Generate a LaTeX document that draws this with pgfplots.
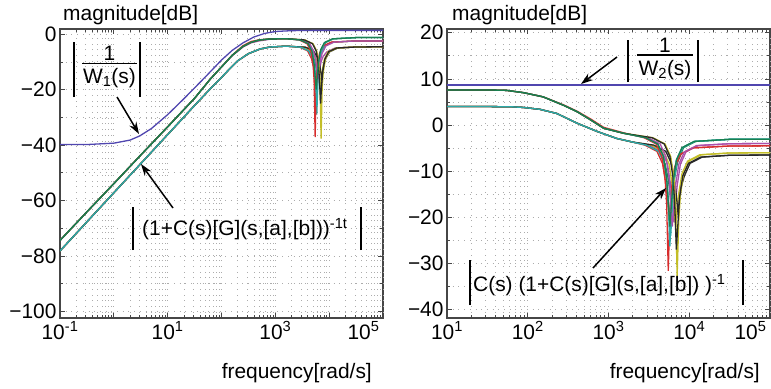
\documentclass[border=0pt]{standalone}
\usepackage{fontspec}
\setmainfont{Liberation Sans}
\usepackage{pgfplots}
\pgfplotsset{compat=1.18}
\usetikzlibrary{arrows.meta}
\definecolor{mgreen}{RGB}{25,128,80}
\definecolor{mred}{RGB}{215,45,45}
\definecolor{mcyan}{RGB}{45,170,170}
\definecolor{mmag}{RGB}{170,80,170}
\definecolor{molive}{RGB}{195,190,40}
\definecolor{mdark}{RGB}{40,40,40}
\definecolor{mblue}{RGB}{80,70,175}
\definecolor{axgray}{RGB}{70,70,70}
\newcommand{\bigfont}{\fontsize{21}{24}\selectfont}
\pgfplotsset{
  bodeaxis/.style={
    scale only axis, width=323bp, height=289bp,
    axis line style={line width=1.5bp, draw=axgray},
    tick style={draw=axgray, line width=0.7bp},
    tick align=inside, major tick length=5bp, minor tick length=3bp,
    grid=both,
    major grid style={draw=gray!65, line width=0.7bp, dash pattern=on 0.7bp off 5bp},
    minor grid style={draw=gray!65, line width=0.7bp, dash pattern=on 0.7bp off 5bp},
    tick label style={font=\bigfont},
    extra x tick style={xticklabel style={anchor=north east}},
    every axis plot/.append style={line width=1.3bp},
    clip=true,
  }
}
\begin{document}
\begin{tikzpicture}[x=1bp,y=1bp,font=\bigfont]
\useasboundingbox (0,0) rectangle (771,388);
% ---------------- left axis ----------------
\begin{axis}[bodeaxis,
  at={(60bp,70bp)}, anchor=south west,
  xmin=-1, xmax=5, ymin=-102.4, ymax=1.9,
  xtick={-1,0,1,2,3,4},
  xticklabels={10\textsuperscript{-1},,10\textsuperscript{1},,10\textsuperscript{3},},
  extra x ticks={5}, extra x tick labels={10\textsuperscript{5}},
  minor xtick={-0.69897,-0.52288,-0.39794,-0.30103,-0.22185,-0.1549,-0.09691,-0.04576,
    0.30103,0.47712,0.60206,0.69897,0.77815,0.8451,0.90309,0.95424,
    1.30103,1.47712,1.60206,1.69897,1.77815,1.8451,1.90309,1.95424,
    2.30103,2.47712,2.60206,2.69897,2.77815,2.8451,2.90309,2.95424,
    3.30103,3.47712,3.60206,3.69897,3.77815,3.8451,3.90309,3.95424,
    4.30103,4.47712,4.60206,4.69897,4.77815,4.8451,4.90309,4.95424},
  ytick={-100,-80,-60,-40,-20,0},
  yticklabels={−100,−80,−60,−40,−20,0},
  minor ytick={-90,-70,-50,-30,-10},
]
% lower group
\addplot[mred] coordinates {(-1,-78.2) (-0.5,-67.7) (0,-57.2) (0.5,-46.7) (1,-36.2) (1.5,-25.7) (1.8,-19.5) (2.0,-15.6) (2.15,-12.5) (2.3,-9.6) (2.5,-7.0) (2.72,-5.3) (2.9,-4.6) (3.2,-4.3)
 (3.45,-4.65) (3.60,-6.0) (3.67,-8.7) (3.71,-11.8) (3.73,-14.6) (3.75,-18) (3.77,-14.1) (3.79,-11.0) (3.83,-6.9) (3.90,-4.2) (4.05,-2.85) (4.5,-2.4) (5,-2.4)};
\addplot[mgreen] coordinates {(-1,-78.2) (-0.5,-67.7) (0,-57.2) (0.5,-46.7) (1,-36.2) (1.5,-25.7) (1.8,-19.5) (2.0,-15.6) (2.15,-12.5) (2.3,-9.6) (2.5,-7.0) (2.72,-5.3) (2.9,-4.6) (3.2,-4.3)
 (3.48,-4.65) (3.63,-6.0) (3.70,-8.0) (3.74,-10.1) (3.76,-12.3) (3.78,-15) (3.80,-11.6) (3.82,-8.8) (3.86,-5.7) (3.93,-3.0) (4.08,-1.65) (4.5,-1.2) (5,-1.2)};
\addplot[mmag] coordinates {(-1,-78.2) (-0.5,-67.7) (0,-57.2) (0.5,-46.7) (1,-36.2) (1.5,-25.7) (1.8,-19.5) (2.0,-15.6) (2.15,-12.5) (2.3,-9.6) (2.5,-7.0) (2.72,-5.3) (2.9,-4.6) (3.2,-4.3)
 (3.51,-4.65) (3.66,-6.0) (3.73,-7.6) (3.77,-9.6) (3.79,-11.6) (3.81,-14) (3.83,-11.9) (3.85,-9.9) (3.89,-7.9) (3.96,-6.3) (4.11,-4.95) (4.5,-4.6) (5,-4.5)};
\addplot[molive] coordinates {(-1,-78.2) (-0.5,-67.7) (0,-57.2) (0.5,-46.7) (1,-36.2) (1.5,-25.7) (1.8,-19.5) (2.0,-15.6) (2.15,-12.5) (2.3,-9.6) (2.5,-7.0) (2.72,-5.3) (2.9,-4.6) (3.2,-4.3)
 (3.53,-4.65) (3.68,-6.0) (3.75,-8.7) (3.79,-12.9) (3.81,-16.1) (3.83,-20) (3.85,-16.4) (3.87,-13.2) (3.91,-9.0) (3.98,-6.3) (4.13,-4.95) (4.5,-4.6) (5,-4.5)};
\addplot[mdark] coordinates {(-1,-78.2) (-0.5,-67.7) (0,-57.2) (0.5,-46.7) (1,-36.2) (1.5,-25.7) (1.8,-19.5) (2.0,-15.6) (2.15,-12.5) (2.3,-9.6) (2.5,-7.0) (2.72,-5.3) (2.9,-4.6) (3.2,-4.3)
 (3.56,-4.65) (3.71,-6.0) (3.78,-8.3) (3.82,-10.7) (3.84,-13.1) (3.86,-16) (3.88,-13.4) (3.90,-11.0) (3.94,-8.6) (4.01,-6.3) (4.16,-4.95) (4.5,-4.6) (5,-4.5)};
\addplot[mcyan] coordinates {(-1,-78.2) (-0.5,-67.7) (0,-57.2) (0.5,-46.7) (1,-36.2) (1.5,-25.7) (1.8,-19.5) (2.0,-15.6) (2.15,-12.5) (2.3,-9.6) (2.5,-7.0) (2.72,-5.3) (2.9,-4.6) (3.2,-4.3)
 (3.47,-4.65) (3.62,-6.0) (3.69,-8.7) (3.73,-13.4) (3.75,-19.0) (3.77,-29) (3.79,-17.2) (3.81,-11.6) (3.85,-6.9) (3.92,-4.2) (4.07,-2.85) (4.5,-2.4) (5,-2.4)};
% upper group
\addplot[mred] coordinates {(-1,-74.4) (-0.5,-64.1) (0,-53.9) (0.5,-43.6) (1,-33.4) (1.5,-23.1) (1.8,-16.0) (2.0,-11.8) (2.2,-7.5) (2.4,-4.1) (2.55,-2.6) (2.7,-2.0) (2.9,-1.7) (3.2,-1.6)
 (3.44,-2.05) (3.59,-3.4) (3.66,-6.1) (3.70,-10.8) (3.72,-16.4) (3.74,-37.1) (3.76,-17.2) (3.78,-11.6) (3.82,-6.9) (3.89,-4.2) (4.04,-2.85) (4.5,-2.4) (5,-2.4)};
\addplot[mcyan] coordinates {(-1,-74.4) (-0.5,-64.1) (0,-53.9) (0.5,-43.6) (1,-33.4) (1.5,-23.1) (1.8,-16.0) (2.0,-11.8) (2.2,-7.6) (2.4,-4.4) (2.55,-2.9) (2.7,-2.1) (2.9,-1.7) (3.2,-1.6)
 (3.47,-2.05) (3.62,-3.4) (3.69,-6.1) (3.73,-10.8) (3.75,-16.4) (3.77,-26) (3.79,-16.0) (3.81,-10.4) (3.85,-5.7) (3.92,-3.0) (4.07,-1.65) (4.5,-1.2) (5,-1.2)};
\addplot[mmag] coordinates {(-1,-74.4) (-0.5,-64.1) (0,-53.9) (0.5,-43.6) (1,-33.4) (1.5,-23.1) (1.8,-16.0) (2.0,-11.8) (2.2,-7.7) (2.4,-4.6) (2.55,-3.1) (2.7,-2.4) (2.9,-1.8) (3.2,-1.6)
 (3.49,-2.05) (3.64,-3.4) (3.71,-6.1) (3.75,-9.5) (3.77,-12.4) (3.79,-16) (3.81,-12.6) (3.83,-9.9) (3.87,-6.9) (3.94,-4.2) (4.09,-2.85) (4.5,-2.4) (5,-2.4)};
\addplot[molive] coordinates {(-1,-74.4) (-0.5,-64.1) (0,-53.9) (0.5,-43.6) (1,-33.4) (1.5,-23.1) (1.8,-16.0) (2.0,-11.8) (2.2,-7.6) (2.4,-4.4) (2.55,-2.9) (2.7,-2.1) (2.9,-1.7) (3.2,-1.6)
 (3.55,-2.05) (3.70,-3.4) (3.77,-6.1) (3.81,-10.8) (3.83,-16.4) (3.85,-37.7) (3.87,-19.3) (3.89,-13.7) (3.93,-9.0) (4.0,-6.3) (4.15,-4.95) (4.5,-4.6) (5,-4.5)};
\addplot[mdark] coordinates {(-1,-74.4) (-0.5,-64.1) (0,-53.9) (0.5,-43.6) (1,-33.4) (1.5,-23.1) (1.8,-16.0) (2.0,-11.8) (2.2,-7.6) (2.4,-4.4) (2.55,-2.9) (2.7,-2.1) (2.9,-1.7) (3.2,-1.6)
 (3.54,-2.05) (3.69,-3.4) (3.76,-6.1) (3.80,-10.8) (3.82,-16.4) (3.84,-25) (3.86,-18.5) (3.88,-13.7) (3.92,-9.0) (3.99,-6.3) (4.14,-4.95) (4.5,-4.6) (5,-4.5)};
\addplot[mgreen] coordinates {(-1,-74.4) (-0.5,-64.1) (0,-53.9) (0.5,-43.6) (1,-33.4) (1.5,-23.1) (1.8,-16.0) (2.0,-11.8) (2.2,-7.6) (2.4,-4.4) (2.55,-2.9) (2.7,-2.1) (2.9,-1.7) (3.2,-1.6)
 (3.46,-2.05) (3.61,-3.4) (3.68,-6.1) (3.72,-10.8) (3.74,-15.4) (3.76,-20) (3.78,-15.3) (3.80,-10.4) (3.84,-5.7) (3.91,-3.0) (4.06,-1.65) (4.5,-1.2) (5,-1.2)};
% 1/W1
\addplot[mblue] coordinates {(-1,-39.8) (-0.5,-39.8) (0,-39.3) (0.3,-38.2) (0.48,-36.7) (0.7,-34.0) (1.0,-29.0) (1.3,-23.3) (1.7,-15.4) (2.0,-9.3) (2.2,-5.8) (2.4,-3.1) (2.6,-1.0) (2.8,0.3) (3.0,1.0) (3.3,1.3) (3.7,1.4) (5,1.4)};
\end{axis}
% ---------------- right axis ----------------
\begin{axis}[bodeaxis,
  at={(447bp,70bp)}, anchor=south west,
  xmin=1, xmax=5, ymin=-41.8, ymax=20.8,
  xtick={1,2,3,4},
  xticklabels={10\textsuperscript{1},10\textsuperscript{2},10\textsuperscript{3},10\textsuperscript{4}},
  extra x ticks={5}, extra x tick labels={10\textsuperscript{5}},
  minor xtick={1.30103,1.47712,1.60206,1.69897,1.77815,1.8451,1.90309,1.95424,
    2.30103,2.47712,2.60206,2.69897,2.77815,2.8451,2.90309,2.95424,
    3.30103,3.47712,3.60206,3.69897,3.77815,3.8451,3.90309,3.95424,
    4.30103,4.47712,4.60206,4.69897,4.77815,4.8451,4.90309,4.95424},
  ytick={-40,-30,-20,-10,0,10,20},
  yticklabels={−40,−30,−20,−10,0,10,20},
  minor ytick={-35,-25,-15,-5,5,15},
]
% lower group
\addplot[mred] coordinates {(1,4.0) (1.5,4.0) (1.8,3.95) (1.95,3.8) (2.15,3.4) (2.36,2.5) (2.61,0.4) (2.86,-1.4) (3.10,-2.9) (3.3,-3.7)
 (3.45,-4.35) (3.60,-5.7) (3.67,-8.4) (3.71,-12.8) (3.73,-16.0) (3.75,-20) (3.77,-16.1) (3.79,-13.0) (3.83,-9.0) (3.90,-6.3) (4.05,-4.95) (4.5,-4.55) (5,-4.5)};
\addplot[mgreen] coordinates {(1,4.0) (1.5,4.0) (1.8,3.95) (1.95,3.8) (2.15,3.4) (2.36,2.5) (2.61,0.4) (2.86,-1.4) (3.10,-2.9) (3.3,-3.7)
 (3.48,-4.35) (3.63,-5.7) (3.70,-8.4) (3.74,-11.7) (3.76,-14.5) (3.78,-18) (3.80,-14.3) (3.82,-11.3) (3.86,-7.6) (3.93,-4.9) (4.08,-3.55) (4.5,-3.1) (5,-3.1)};
\addplot[mmag] coordinates {(1,4.0) (1.5,4.0) (1.8,3.95) (1.95,3.8) (2.15,3.4) (2.36,2.5) (2.61,0.4) (2.86,-1.4) (3.10,-2.9) (3.3,-3.7)
 (3.51,-4.35) (3.66,-5.7) (3.73,-8.4) (3.77,-13.1) (3.79,-16.7) (3.81,-21) (3.83,-16.8) (3.85,-13.2) (3.89,-8.5) (3.96,-5.8) (4.11,-4.45) (4.5,-4.05) (5,-4.0)};
\addplot[molive] coordinates {(1,4.0) (1.5,4.0) (1.8,3.95) (1.95,3.8) (2.15,3.4) (2.36,2.5) (2.61,0.4) (2.86,-1.4) (3.10,-2.9) (3.3,-3.7)
 (3.53,-4.35) (3.68,-5.7) (3.75,-8.4) (3.79,-13.1) (3.81,-17.5) (3.83,-22) (3.85,-18.0) (3.87,-14.8) (3.91,-10.5) (3.98,-7.8) (4.13,-6.45) (4.5,-6.05) (5,-6.0)};
\addplot[mdark] coordinates {(1,4.0) (1.5,4.0) (1.8,3.95) (1.95,3.8) (2.15,3.4) (2.36,2.5) (2.61,0.4) (2.86,-1.4) (3.10,-2.9) (3.3,-3.7)
 (3.56,-4.35) (3.71,-5.7) (3.78,-8.4) (3.82,-12.2) (3.84,-15.2) (3.86,-19) (3.88,-15.9) (3.90,-13.4) (3.94,-11.0) (4.01,-8.3) (4.16,-6.95) (4.5,-6.55) (5,-6.5)};
\addplot[mcyan] coordinates {(1,4.0) (1.5,4.0) (1.8,3.95) (1.95,3.8) (2.15,3.4) (2.36,2.5) (2.61,0.4) (2.86,-1.4) (3.10,-2.9) (3.3,-3.7)
 (3.47,-4.35) (3.62,-5.7) (3.69,-8.4) (3.73,-13.1) (3.75,-18.7) (3.77,-24) (3.79,-17.9) (3.81,-12.3) (3.85,-7.6) (3.92,-4.9) (4.07,-3.55) (4.5,-3.1) (5,-3.1)};
% upper group
\addplot[mred] coordinates {(1,7.6) (1.5,7.6) (1.74,7.5) (1.95,7.0) (2.19,6.1) (2.44,4.4) (2.61,3.0) (2.78,1.3) (2.94,-0.5) (3.19,-1.7)
 (3.44,-2.75) (3.59,-4.1) (3.66,-6.8) (3.70,-11.5) (3.72,-17.1) (3.74,-31.6) (3.76,-19.3) (3.78,-13.7) (3.82,-9.0) (3.89,-6.3) (4.04,-4.95) (4.5,-4.55) (5,-4.5)};
\addplot[mcyan] coordinates {(1,7.6) (1.5,7.6) (1.74,7.5) (1.95,7.0) (2.19,6.1) (2.44,4.3) (2.61,2.9) (2.78,1.1) (2.94,-0.7) (3.19,-1.8)
 (3.46,-2.75) (3.61,-4.1) (3.68,-6.8) (3.72,-11.5) (3.74,-17.1) (3.76,-26.3) (3.78,-17.9) (3.80,-12.3) (3.84,-7.6) (3.91,-4.9) (4.06,-3.55) (4.5,-3.1) (5,-3.1)};
\addplot[mmag] coordinates {(1,7.6) (1.5,7.6) (1.74,7.5) (1.95,7.0) (2.19,6.1) (2.44,4.3) (2.61,2.9) (2.78,1.1) (2.94,-0.7) (3.19,-1.8)
 (3.49,-2.75) (3.64,-4.1) (3.71,-6.8) (3.75,-11.5) (3.77,-17.1) (3.79,-22) (3.81,-17.5) (3.83,-13.2) (3.87,-8.5) (3.94,-5.8) (4.09,-4.45) (4.5,-4.05) (5,-4.0)};
\addplot[molive] coordinates {(1,7.6) (1.5,7.6) (1.74,7.5) (1.95,7.0) (2.19,6.1) (2.44,4.3) (2.61,2.9) (2.78,1.1) (2.94,-0.7) (3.19,-1.8)
 (3.55,-2.75) (3.70,-4.1) (3.77,-6.8) (3.81,-11.5) (3.83,-17.1) (3.85,-32.7) (3.87,-20.8) (3.89,-15.2) (3.93,-10.5) (4.0,-7.8) (4.15,-6.45) (4.5,-6.05) (5,-6.0)};
\addplot[mdark] coordinates {(1,7.6) (1.5,7.6) (1.74,7.5) (1.95,7.0) (2.19,6.1) (2.44,4.3) (2.61,2.9) (2.78,1.1) (2.94,-0.7) (3.19,-1.8)
 (3.54,-2.75) (3.69,-4.1) (3.76,-6.8) (3.80,-11.5) (3.82,-17.1) (3.84,-27) (3.86,-21.3) (3.88,-15.7) (3.92,-11.0) (3.99,-8.3) (4.14,-6.95) (4.5,-6.55) (5,-6.5)};
\addplot[mgreen] coordinates {(1,7.6) (1.5,7.6) (1.74,7.5) (1.95,7.0) (2.19,6.1) (2.44,4.3) (2.61,2.9) (2.78,1.1) (2.94,-0.7) (3.19,-1.8)
 (3.46,-2.75) (3.61,-4.1) (3.68,-6.8) (3.72,-11.5) (3.74,-16.8) (3.76,-22) (3.78,-17.0) (3.80,-12.3) (3.84,-7.6) (3.91,-4.9) (4.06,-3.55) (4.5,-3.1) (5,-3.1)};
% 1/W2
\addplot[mblue] coordinates {(1,8.7) (2,8.7) (3,8.7) (4,8.7) (5,8.7)};
\end{axis}
% ---------------- labels ----------------
\node[anchor=base west, inner sep=0] at (63,367.5) {magnitude[dB]};
\node[anchor=base west, inner sep=0] at (452,367.5) {magnitude[dB]};
\node[anchor=base east, inner sep=0] at (372,9.5) {frequency[rad/s]};
\node[anchor=base east, inner sep=0] at (760,9.5) {frequency[rad/s]};
% 1/W1 annotation
\draw[line width=1.5bp] (74,291) -- (74,346);
\draw[line width=1.5bp] (140,291) -- (140,346);
\draw[line width=1.6bp] (82,324.7) -- (137,324.7);
\node[anchor=base, inner sep=0] at (109.5,327.7) {1};
\node[anchor=base, inner sep=0] at (109.5,304.4) {W\textsubscript{1}(s)};
\draw[line width=1.5bp, -{Stealth[length=12bp,width=8bp]}] (117,291) -- (139,254);
% S annotation
\draw[line width=1.5bp] (133,138) -- (133,181);
\draw[line width=1.5bp] (361,138) -- (361,181);
\node[anchor=base west, inner sep=0] at (142,152.5) {(1+C(s)[G](s,[a],[b]))\textsuperscript{-1t}};
\draw[line width=1.5bp, -{Stealth[length=12bp,width=8bp]}] (173,180) -- (141,224);
% 1/W2 annotation
\draw[line width=1.5bp] (628,306) -- (628,348);
\draw[line width=1.5bp] (698,306) -- (698,348);
\draw[line width=1.6bp] (637,333) -- (693,333);
\node[anchor=base, inner sep=0] at (665,335.5) {1};
\node[anchor=base, inner sep=0] at (665,312.7) {W\textsubscript{2}(s)};
\draw[line width=1.5bp, -{Stealth[length=12bp,width=8bp]}] (617,331) -- (581,304);
% T annotation
\draw[line width=1.5bp] (470,83) -- (470,128);
\draw[line width=1.5bp] (743,83) -- (743,128);
\node[anchor=base west, inner sep=0] at (473,96.5) {C(s) (1+C(s)[G](s,[a],[b]) )\textsuperscript{-1}};
\draw[line width=1.5bp, -{Stealth[length=12bp,width=8bp]}] (593,120) -- (666,200);
\end{tikzpicture}
\end{document}
